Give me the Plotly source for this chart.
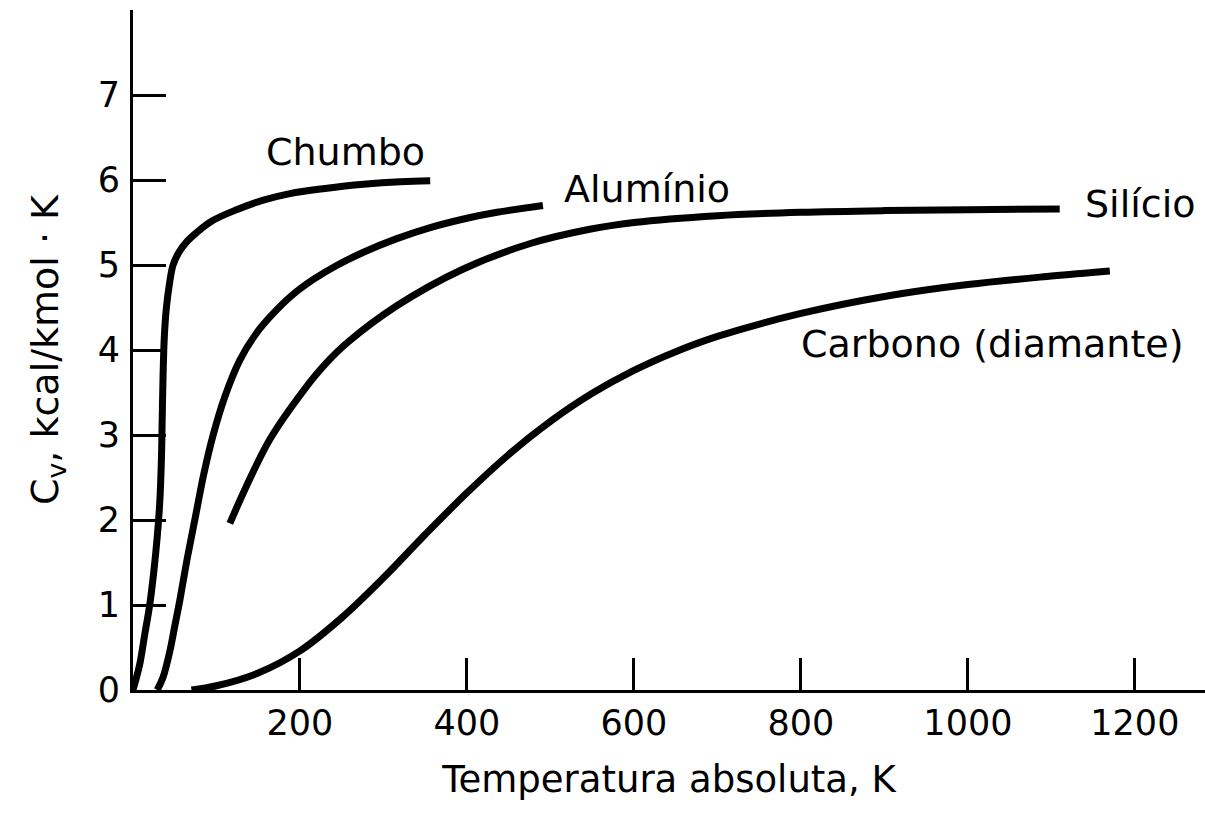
import plotly.graph_objects as go

# Temperature (K) and Cv (kcal/kmol·K)
chumbo_T = [0, 8, 14, 20, 25, 29, 32, 34, 35, 36, 37.5, 40, 44, 48, 55, 64, 76, 95, 124, 155, 188, 230, 276, 320, 356]
chumbo_cv = [0, 0.3, 0.65, 1.0, 1.4, 1.8, 2.2, 2.7, 3.2, 3.7, 4.15, 4.5, 4.8, 5.0, 5.15, 5.27, 5.38, 5.52, 5.65, 5.76, 5.84, 5.9, 5.95, 5.98, 5.99]

aluminio_T = [29, 36, 44, 50, 56, 65, 75, 85, 96, 110, 128, 148, 168, 190, 216, 245, 276, 316, 356, 400, 436, 491]
aluminio_cv = [0, 0.15, 0.45, 0.75, 1.05, 1.55, 2.05, 2.55, 3.0, 3.45, 3.88, 4.2, 4.43, 4.64, 4.83, 5.0, 5.15, 5.31, 5.44, 5.55, 5.62, 5.7]

silicio_T = [116, 135, 164, 204, 230, 256, 316, 395, 475, 547, 600, 700, 800, 900, 1000, 1110]
silicio_cv = [1.96, 2.38, 2.95, 3.52, 3.83, 4.08, 4.52, 4.95, 5.25, 5.42, 5.5, 5.58, 5.62, 5.64, 5.65, 5.66]

carbono_T = [70, 100, 150, 200, 250, 300, 350, 400, 450, 500, 550, 600, 650, 700, 800, 900, 1000, 1100, 1170]
carbono_cv = [0, 0.05, 0.2, 0.46, 0.85, 1.32, 1.83, 2.32, 2.77, 3.16, 3.49, 3.76, 3.98, 4.16, 4.43, 4.63, 4.77, 4.87, 4.93]

labels = ["Chumbo", "Alumínio", "Silício", "Carbono (diamante)"]
label_T = [254, 616, 1207, 1029]
label_cv = [6.33, 5.9, 5.72, 4.07]

x_ticks = [200, 400, 600, 800, 1000, 1200]
y_ticks = [0, 1, 2, 3, 4, 5, 6, 7]

FONT = "DejaVu Sans"

fig = go.Figure()
for T, cv in [(chumbo_T, chumbo_cv), (aluminio_T, aluminio_cv),
              (silicio_T, silicio_cv), (carbono_T, carbono_cv)]:
    fig.add_trace(go.Scatter(x=T, y=cv, mode="lines",
                             line=dict(color="black", width=7, shape="spline", smoothing=1.0),
                             showlegend=False, hoverinfo="skip"))

for txt, xv, yv in zip(labels, label_T, label_cv):
    fig.add_annotation(x=xv, y=yv, text=txt, showarrow=False,
                       xanchor="center", yanchor="middle",
                       font=dict(family=FONT, size=38, color="black"))

fig.update_layout(
    width=1205, height=817,
    margin=dict(l=133, r=0, t=10, b=127),
    paper_bgcolor="white", plot_bgcolor="white",
    font=dict(family=FONT, color="black"),
)
fig.update_xaxes(
    range=[0, 1284], tickvals=x_ticks, ticktext=[str(v) for v in x_ticks],
    showline=True, linecolor="black", linewidth=3,
    ticks="inside", ticklen=32, tickwidth=2.5, tickcolor="black",
    showgrid=False, zeroline=False, ticklabelstandoff=0,
    tickfont=dict(family=FONT, size=35, color="black"),
    title=dict(text="Temperatura absoluta, K", standoff=25,
               font=dict(family=FONT, size=37, color="black")),
)
fig.update_yaxes(
    range=[0, 8], tickvals=y_ticks, ticktext=[str(v) for v in y_ticks],
    showline=True, linecolor="black", linewidth=3,
    ticks="inside", ticklen=33, tickwidth=2.5, tickcolor="black",
    showgrid=False, zeroline=False, ticklabelstandoff=3,
    tickfont=dict(family=FONT, size=35, color="black"),
    title=dict(text="C<sub>v</sub>, kcal/kmol · K", standoff=28,
               font=dict(family=FONT, size=38, color="black")),
)

fig.write_html("out.html")
